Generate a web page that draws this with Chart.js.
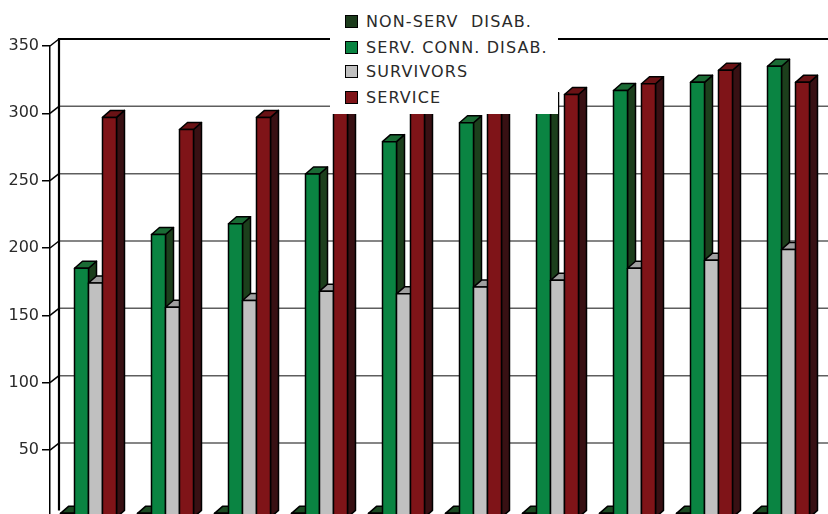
<!DOCTYPE html>
<html>
<head>
<meta charset="utf-8">
<script src="https://cdn.jsdelivr.net/npm/chart.js@4/dist/chart.umd.min.js"></script>
<style>
  html, body { margin: 0; padding: 0; background: #fff; overflow: hidden; }
  #wrap { position: relative; width: 828px; height: 530px; }
  #legend {
    position: absolute; left: 330px; top: 0; width: 228px; height: 114px;
    background: #fff; font-family: "DejaVu Sans", sans-serif; font-size: 16px; color: #2a2a2a;
    letter-spacing: 1.1px;
  }
  .item { position: absolute; left: 15px; height: 20px; display: flex; align-items: center; white-space: pre; }
  .sw { width: 11px; height: 11px; border: 1.5px solid #000; margin-right: 8px; }
</style>
</head>
<body>
<div id="wrap">
  <canvas id="chart" width="828" height="530"></canvas>
  <div id="legend"></div>
</div>
<script>
const $ = (s) => document.querySelector(s);

// data (x labels are cut off in the reference)
const categories = ["1", "2", "3", "4", "5", "6", "7", "8", "9", "10"];
const seriesNames = ["NON-SERV  DISAB.", "SERV. CONN. DISAB.", "SURVIVORS", "SERVICE"];
const nonServ = [3, 3, 3, 3, 3, 3, 3, 3, 3, 3];
const servConn = [185, 210, 218, 255, 279, 293, 310, 317, 323, 335];
const survivors = [174, 156, 161, 168, 166, 171, 176, 185, 191, 199];
const service = [297, 288, 297, 303, 306, 309, 314, 322, 332, 323];
const yTicks = [50, 100, 150, 200, 250, 300, 350];

const FRONT = ["#1c3c1c", "#0a8442", "#c0c0c0", "#7f1418"];
const SIDE = ["#102810", "#1c3f1c", "#808080", "#381013"];
const TOP = ["#1c4a22", "#1b6b35", "#a0a0a0", "#6a1215"];
const DX = 8, DY = 7;     // bar depth
const WX = 9, WY = 7;     // wall depth

const legendRows = [21, 47, 71, 97];
$("#legend").innerHTML = seriesNames.map((n, i) =>
  `<div class="item" style="top:${legendRows[i] - 10}px"><span class="sw" style="background:${FRONT[i]}"></span>${n}</div>`
).join("");

const walls = {
  id: "walls",
  beforeDatasetsDraw(chart) {
    const { ctx, chartArea: a, scales: { y } } = chart;
    const W = chart.width;
    ctx.save();
    ctx.lineWidth = 1.5;
    yTicks.forEach((v) => {
      const py = y.getPixelForValue(v);
      ctx.strokeStyle = "#000";
      ctx.beginPath();
      ctx.moveTo(a.left, py);
      ctx.lineTo(a.left + WX, py - WY);
      ctx.stroke();
      if (v === 350) return;
      ctx.strokeStyle = "#5e5e5e";
      ctx.beginPath();
      ctx.moveTo(a.left + WX, py - WY);
      ctx.lineTo(W, py - WY);
      ctx.stroke();
    });
    const top = y.getPixelForValue(350) - WY;
    ctx.strokeStyle = "#000";
    ctx.lineWidth = 2.2;
    ctx.beginPath();
    ctx.moveTo(W, top);
    ctx.lineTo(a.left + WX, top);
    ctx.lineTo(a.left + WX, a.bottom - WY);
    ctx.stroke();
    ctx.restore();
  },
  afterDatasetsDraw(chart) {
    const ctx = chart.ctx;
    const n = chart.data.labels.length;
    ctx.save();
    ctx.lineWidth = 1.5;
    ctx.strokeStyle = "#000";
    ctx.lineJoin = "round";
    const poly = (pts, fill) => {
      ctx.beginPath();
      ctx.moveTo(pts[0][0], pts[0][1]);
      pts.slice(1).forEach((p) => ctx.lineTo(p[0], p[1]));
      ctx.closePath();
      ctx.fillStyle = fill;
      ctx.fill();
      ctx.stroke();
    };
    for (let i = 0; i < n; i++) {
      chart.data.datasets.forEach((ds, d) => {
        const el = chart.getDatasetMeta(d).data[i];
        const { x, y, base, width } = el.getProps(["x", "y", "base", "width"], true);
        const x0 = x - width / 2, x1 = x + width / 2;
        poly([[x1, y], [x1 + DX, y - DY], [x1 + DX, base - DY], [x1, base]], SIDE[d]);
        poly([[x0, y], [x1, y], [x1 + DX, y - DY], [x0 + DX, y - DY]], TOP[d]);
        poly([[x0, y], [x1, y], [x1, base], [x0, base]], FRONT[d]);
      });
    }
    ctx.restore();
  },
};

const seriesData = [nonServ, servConn, survivors, service];

new Chart($("#chart"), {
  type: "bar",
  data: {
    labels: categories,
    datasets: seriesData.map((vals, d) => ({
      label: seriesNames[d],
      data: vals,
      backgroundColor: "rgba(0,0,0,0)",
      borderWidth: 0,
    })),
  },
  options: {
    responsive: false,
    animation: false,
    events: [],
    layout: { padding: { top: 46, right: 8, bottom: 9, left: 0 } },
    plugins: { legend: { display: false }, tooltip: { enabled: false } },
    datasets: { bar: { categoryPercentage: 0.727, barPercentage: 1.0 } },
    scales: {
      x: { display: false },
      y: {
        min: 0,
        max: 350,
        afterFit: (s) => { s.width = 50; },
        afterBuildTicks: (s) => { s.ticks = yTicks.map((v) => ({ value: v })); },
        ticks: {
          color: "#2a2a2a",
          padding: 3,
          font: { family: "DejaVu Sans", size: 16 },
        },
        grid: { drawOnChartArea: false, drawTicks: true, tickLength: 8, color: "#000", lineWidth: 1.5 },
        border: { display: true, color: "#000", width: 1.5 },
      },
    },
  },
  plugins: [walls],
});
</script>
</body>
</html>
